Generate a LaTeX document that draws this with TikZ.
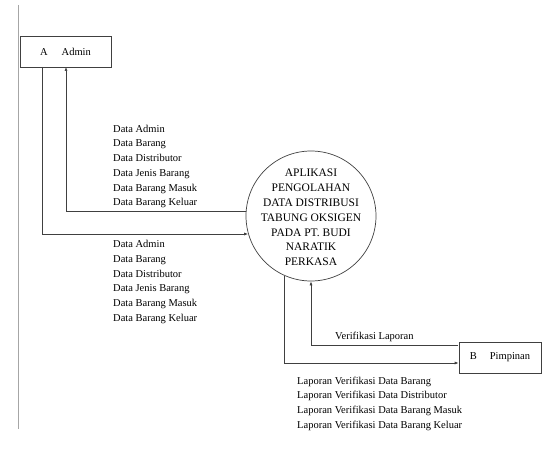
\documentclass[tikz,border=0pt]{standalone}
\usepackage{fontspec}
\setmainfont{Liberation Serif}
\usetikzlibrary{arrows.meta}
\begin{document}
\begin{tikzpicture}[x=1pt,y=1pt,
  ent/.style={draw=black!75,line width=0.7pt,rectangle,inner sep=0pt,font=\fontsize{10.5}{12}\selectfont},
  proc/.style={draw=black!75,line width=0.7pt,circle,inner sep=0pt,minimum size=130pt},
  flow/.style={draw=black!75,line width=0.7pt,-{Latex[length=4pt,width=3pt]}},
  lbl/.style={inner sep=0pt,align=left,anchor=west,font=\fontsize{10.5}{14.7}\selectfont}]
\useasboundingbox (0,0) rectangle (546,459);
% page margin line
\coordinate (m1) at (18,454);
\coordinate (m2) at (18,30);
\draw[black!35,line width=0.8pt] (m1) -- (m2);
% entities and process
\node[ent,minimum width=91pt,minimum height=31pt] (A) at (65.5,407.5) {A\hspace{14pt}Admin};
\node[ent,minimum width=82pt,minimum height=31pt] (B) at (500,101.5) {B\hspace{13pt}Pimpinan};
\node[proc] (P) at (311,243) {};
\node[inner sep=0pt,align=center,font=\fontsize{11.5}{14.8}\selectfont] (Pt) at (311,241.5)
  {APLIKASI\\PENGOLAHAN\\DATA DISTRIBUSI\\TABUNG OKSIGEN\\PADA PT. BUDI\\NARATIK\\PERKASA};
% connectors
\coordinate (a1) at (42,392);
\coordinate (a2) at (66,392);
\coordinate (b1) at (458,114);
\draw[flow] (a1) |- (P.196);
\draw[flow] (P.176) -| (a2);
\draw[flow] (P.246) |- (B.west |- 0,96);
\draw[flow] (b1) -| (P.south);
% labels
\node[lbl] (L1) at (113,292.5) {Data Admin\\Data Barang\\Data Distributor\\Data Jenis Barang\\Data Barang Masuk\\Data Barang Keluar};
\node[lbl] (L2) at (113,177) {Data Admin\\Data Barang\\Data Distributor\\Data Jenis Barang\\Data Barang Masuk\\Data Barang Keluar};
\node[lbl] (L3) at (335,122.5) {Verifikasi Laporan};
\node[lbl] (L4) at (297,55.5) {Laporan Verifikasi Data Barang\\Laporan Verifikasi Data Distributor\\Laporan Verifikasi Data Barang Masuk\\Laporan Verifikasi Data Barang Keluar};
\end{tikzpicture}
\end{document}
